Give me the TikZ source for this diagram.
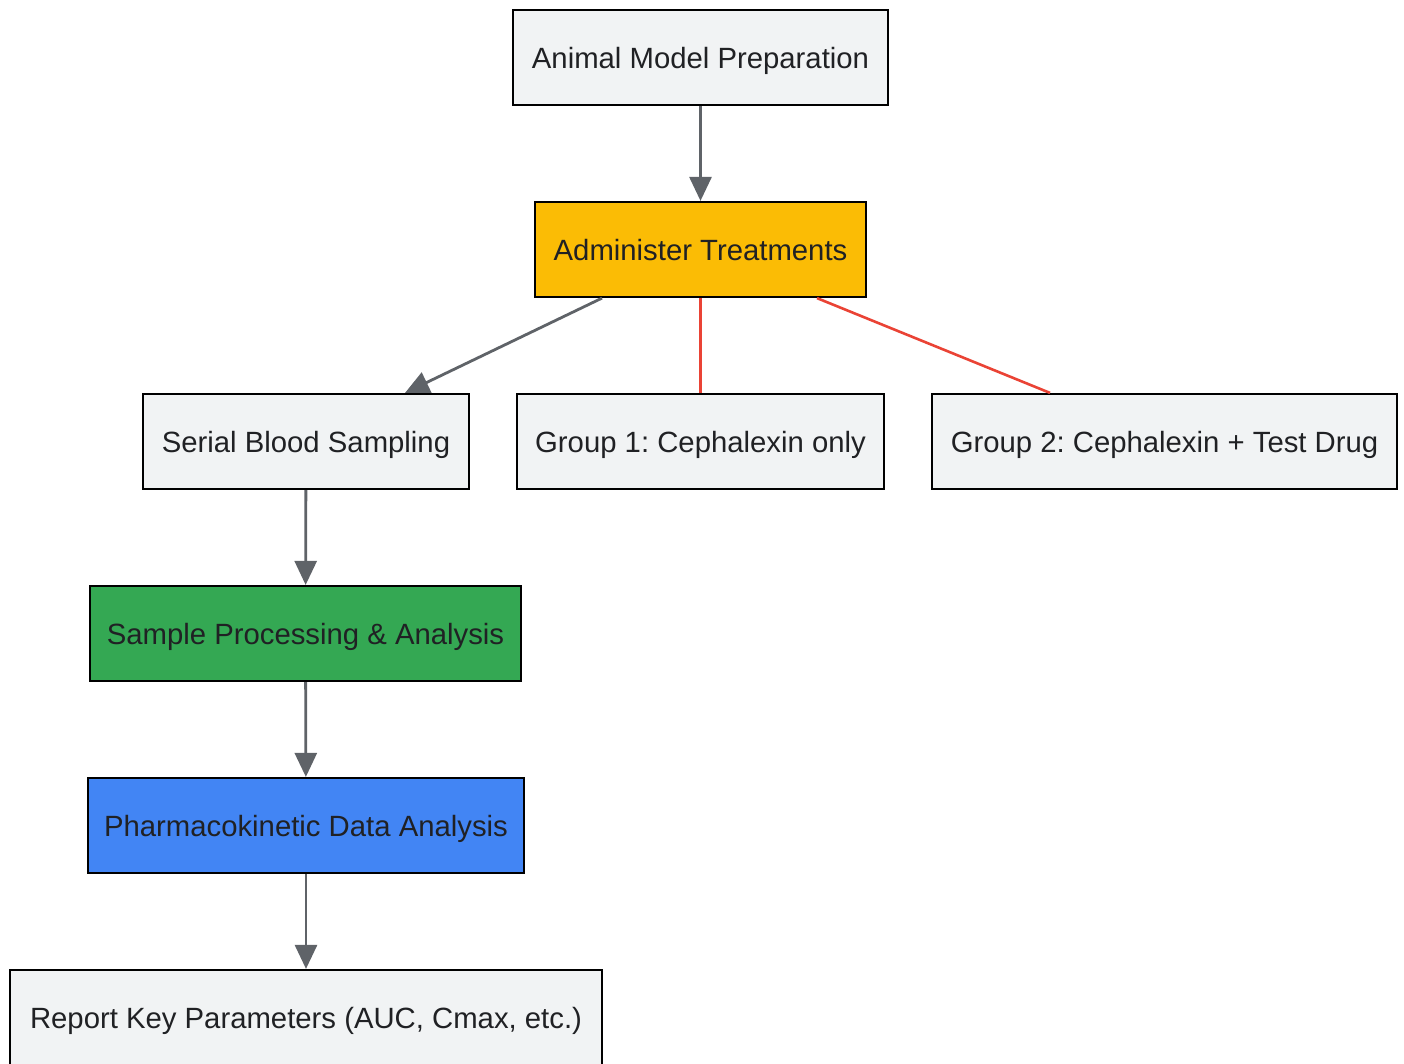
\documentclass[tikz,border=0pt]{standalone}
\usepackage{fontspec}
\setmainfont{Liberation Sans}
\usetikzlibrary{arrows.meta}
\definecolor{boxgray}{HTML}{F1F3F4}
\definecolor{txt}{HTML}{202124}
\definecolor{arrgray}{HTML}{5F6368}
\definecolor{gyellow}{HTML}{FBBC05}
\definecolor{ggreen}{HTML}{34A853}
\definecolor{gblue}{HTML}{4285F4}
\definecolor{gred}{HTML}{EA4335}
\begin{document}
\frenchspacing
\begin{tikzpicture}[x=1pt,y=-1pt,
  box/.style={draw=black, line width=2.2pt, fill=boxgray, text=txt, minimum height=95pt, inner sep=0pt, text height=21pt, text depth=0pt, font=\fontsize{29.3}{33}\selectfont},
  flow/.style={draw=arrgray, line width=2.8pt, -{Triangle[length=24pt,width=22pt]}},
  link/.style={draw=gred, line width=2.6pt}]
\useasboundingbox (0,0) rectangle (1404,1063);
\node[box, minimum width=375pt] (a) at (700.5,57.5) {Animal Model Preparation};
\node[box, minimum width=331pt, fill=gyellow] (b) at (700.5,249.5) {Administer Treatments};
\node[box, minimum width=326pt] (c) at (306,441.5) {Serial Blood Sampling};
\node[box, minimum width=367pt] (g1) at (700.5,441.5) {Group 1: Cephalexin only};
\node[box, minimum width=465pt] (g2) at (1164.5,441.5) {Group 2: Cephalexin + Test Drug};
\node[box, minimum width=431pt, fill=ggreen] (d) at (305.5,633.5) {Sample Processing \& Analysis};
\node[box, minimum width=436pt, fill=gblue] (e) at (306,825.5) {Pharmacokinetic Data Analysis};
\node[box, minimum width=592pt] (f) at (306,1017.5) {Report Key Parameters (AUC, Cmax, etc.)};
\draw[flow] (a) -- (b);
\draw[flow] (b.south -| 602,0) -- (c.north -| 405,0);
\draw[link] (b) -- (g1);
\draw[link] (b.south -| 817,0) -- (g2.north -| 1050,0);
\draw[flow] (c) -- (d);
\draw[flow] (d) -- (e);
\draw[flow] (e) -- (f);
\end{tikzpicture}
\end{document}
